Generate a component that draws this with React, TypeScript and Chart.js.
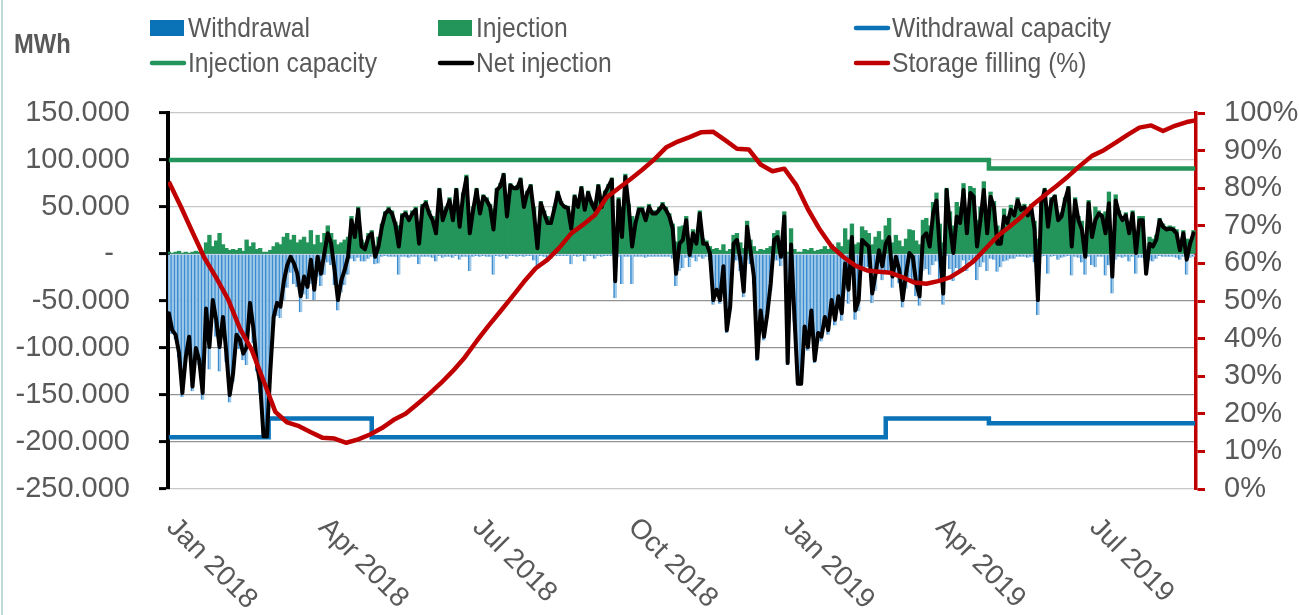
import React, { useEffect, useRef } from "react";
import { Chart, registerables } from "chart.js";

Chart.register(...registerables);

// ---------- DATA ----------
const START_DATE = "2018-01-01";
const NET_STEP_DAYS = 2; // one value every second day starting at START_DATE
const STORAGE_STEP_DAYS = 7; // weekly storage filling readings

// Net injection (thousand MWh per day)
const netInjection = [
  -63, -81, -86, -105, -148, -110, -88, -141, -100, -113,
  -148, -58, -99, -49, -70, -99, -67, -105, -150, -127,
  -86, -91, -106, -99, -52, -79, -116, -138, -194, -194,
  -125, -67, -52, -56, -29, -12, -3, -10, -21, -45,
  -24, -35, -6, -38, -3, -21, 1, 22, 11, -17,
  -49, -28, -17, -3, 36, 18, 47, 8, 5, 18,
  22, -3, 8, 29, 43, 47, 43, 31, 8, 40,
  43, 36, 43, 47, 11, 50, 54, 43, 36, 22,
  68, 36, 47, 57, 36, 68, 29, 62, 81, 22,
  47, 68, 43, 61, 57, 50, 26, 68, 72, 84,
  40, 73, 70, 70, 79, 50, 65, 72, 43, 6,
  54, 43, 33, 33, 48, 65, 54, 50, 49, 27,
  61, 50, 70, 47, 65, 54, 47, 72, 50, 65,
  72, 79, -29, 57, 18, 82, 50, 8, 33, 47,
  47, 36, 50, 43, 43, 47, 52, 47, 40, 27,
  -21, 11, 15, 36, -1, 22, 11, 43, 11, 11,
  1, -49, -38, -49, -13, -81, -56, 11, 15, -6,
  -40, 29, 4, -24, -111, -60, -88, -63, -31, 15,
  18, -3, 40, -116, 10, -67, -138, -138, -77, -99,
  -60, -113, -84, -88, -67, -81, -49, -70, -45, -63,
  -10, -38, 18, -60, -49, 15, 11, 8, -42, -21,
  4, -13, 11, 18, -24, -3, -17, -49, -21, 1,
  -3, -31, -45, 18, 22, 8, 43, 57, 4, -42,
  68, 29, 1, 40, 33, 68, 22, 65, 61, 8,
  36, 68, 22, 61, 50, 11, 11, 40, 33, 47,
  41, 57, 47, 50, 41, 50, 26, -49, 54, 68,
  29, 57, 61, 36, 40, 57, 70, 8, 57, 36,
  26, -3, 54, 18, 36, 43, 40, 22, 54, -24,
  57, 43, 36, 41, 22, 43, 1, 36, 36, -21,
  11, 8, 15, 36, 29, 26, 27, 26, 22, 4,
  22, -6, 11, 22,
];

// Injection (thousand MWh per day)
const injection = [
  2, 1, 2, 3, 1, 2, 1, 2, 3, 2,
  3, 12, 20, 8, 14, 22, 10, 6, 4, 5,
  4, 6, 3, 15, 8, 12, 5, 6, 2, 2,
  4, 8, 12, 10, 18, 22, 15, 20, 12, 15,
  18, 12, 25, 10, 20, 12, 22, 30, 22, 15,
  10, 12, 15, 18, 40, 25, 50, 15, 12, 22,
  25, 8, 18, 32, 45, 50, 46, 34, 30, 43,
  46, 40, 46, 50, 22, 53, 57, 46, 40, 30,
  70, 40, 50, 60, 40, 70, 35, 65, 84, 40,
  50, 70, 46, 63, 60, 53, 48, 70, 75, 86,
  45, 75, 72, 73, 81, 53, 67, 74, 50, 20,
  56, 46, 40, 38, 50, 67, 56, 52, 51, 38,
  63, 53, 72, 55, 67, 56, 52, 74, 53, 67,
  74, 81, 18, 60, 50, 85, 53, 40, 36, 50,
  50, 40, 53, 46, 46, 50, 55, 50, 43, 32,
  13, 29, 30, 40, 13, 26, 19, 46, 16, 14,
  8, 5, 6, 4, 10, 3, 5, 20, 22, 12,
  6, 35, 15, 8, 3, 5, 4, 6, 8, 22,
  25, 10, 45, 2, 27, 5, 2, 2, 5, 4,
  6, 3, 4, 5, 8, 5, 10, 6, 12, 8,
  27, 15, 32, 10, 12, 29, 25, 22, 10, 18,
  24, 15, 30, 38, 12, 20, 14, 8, 16, 26,
  25, 14, 10, 36, 38, 30, 55, 65, 32, 12,
  70, 45, 30, 55, 50, 75, 40, 72, 70, 36,
  50, 77, 40, 66, 56, 30, 25, 48, 40, 52,
  46, 60, 50, 53, 45, 53, 35, 16, 57, 70,
  50, 60, 63, 42, 44, 60, 72, 31, 60, 40,
  35, 19, 57, 30, 50, 46, 43, 45, 66, 18,
  63, 46, 40, 44, 30, 46, 22, 40, 40, 1,
  18, 16, 20, 38, 32, 29, 30, 29, 26, 10,
  25, 16, 15, 25,
];

// Withdrawal (thousand MWh per day)
const withdrawal = [
  -68, -85, -91, -110, -152, -115, -92, -146, -105, -118,
  -155, -74, -123, -61, -88, -125, -81, -115, -158, -136,
  -94, -101, -113, -118, -64, -95, -125, -148, -196, -196,
  -131, -77, -66, -68, -49, -36, -20, -32, -35, -62,
  -43, -48, -32, -49, -24, -34, -22, -9, -12, -33,
  -60, -41, -33, -22, -5, -8, -4, -8, -8, -5,
  -3, -11, -10, -3, -2, -3, -3, -3, -22, -3,
  -3, -4, -3, -3, -11, -3, -3, -3, -4, -8,
  -2, -4, -3, -3, -4, -2, -6, -3, -3, -18,
  -3, -2, -3, -2, -3, -3, -22, -2, -3, -2,
  -5, -2, -2, -3, -2, -3, -2, -2, -7, -14,
  -2, -3, -7, -5, -2, -2, -2, -2, -2, -11,
  -2, -3, -2, -8, -2, -2, -5, -2, -3, -2,
  -2, -2, -47, -3, -32, -3, -3, -32, -3, -3,
  -3, -4, -3, -3, -3, -3, -3, -3, -3, -5,
  -34, -18, -15, -4, -14, -4, -8, -3, -5, -3,
  -7, -54, -44, -53, -23, -84, -61, -9, -7, -18,
  -46, -6, -11, -32, -114, -65, -92, -69, -39, -7,
  -7, -13, -5, -118, -17, -72, -140, -140, -82, -103,
  -66, -116, -88, -93, -75, -86, -59, -76, -57, -71,
  -37, -53, -14, -70, -61, -14, -14, -14, -52, -39,
  -20, -28, -19, -20, -36, -23, -31, -57, -37, -25,
  -28, -45, -55, -18, -16, -22, -12, -8, -28, -54,
  -2, -16, -29, -15, -17, -7, -18, -7, -9, -28,
  -14, -9, -18, -5, -6, -19, -14, -8, -7, -5,
  -5, -3, -3, -3, -4, -3, -9, -65, -3, -2,
  -21, -3, -2, -6, -4, -3, -2, -23, -3, -4,
  -9, -22, -3, -12, -14, -3, -3, -23, -12, -42,
  -6, -3, -4, -3, -8, -3, -21, -4, -4, -22,
  -7, -8, -5, -2, -3, -3, -3, -3, -4, -6,
  -3, -22, -4, -3,
];

// Storage filling (%), weekly
const storageFilling = [
  81.7, 75.2, 68.3, 61.5, 56.2, 50.5, 42.7, 37.0, 28.8, 20.5,
  17.7, 16.7, 15.1, 13.6, 13.4, 12.3, 13.2, 14.5, 16.2, 18.4,
  20.0, 22.6, 25.3, 28.2, 31.4, 35.0, 39.3, 43.4, 47.2, 51.1,
  55.1, 58.7, 61.0, 64.2, 68.0, 70.3, 72.9, 77.6, 80.0, 82.4,
  84.9, 87.6, 90.8, 92.4, 93.6, 94.9, 95.0, 92.8, 90.5, 90.3,
  86.3, 84.5, 85.2, 80.9, 74.4, 69.0, 64.5, 61.7, 59.4, 58.1,
  57.8, 57.5, 56.3, 54.9, 54.6, 55.3, 56.3, 58.2, 60.6, 63.9,
  67.2, 69.7, 72.3, 75.6, 78.1, 80.6, 83.2, 86.0, 88.6, 90.1,
  92.1, 94.2, 96.1, 96.7, 95.2, 96.6, 97.6, 98.2,
];

// Capacities (thousand MWh per day), valid from the given date
const withdrawalCapDates = ["2018-01-01", "2018-03-01", "2018-05-01", "2019-03-01", "2019-05-01", "2019-08-31"];
const withdrawalCapValues = [-195, -175, -195, -175, -180, -180];
const injectionCapDates = ["2018-01-01", "2019-05-01", "2019-08-31"];
const injectionCapValues = [100, 91, 91];

// Axis ticks
const xTickDates = ["2018-01-01", "2018-04-01", "2018-07-01", "2018-10-01", "2019-01-01", "2019-04-01", "2019-07-01"];
const xTickLabels = ["Jan 2018", "Apr 2018", "Jul 2018", "Oct 2018", "Jan 2019", "Apr 2019", "Jul 2019"];
const xRangeDates = ["2018-01-01", "2019-08-31"];
const yUnitLabel = "MWh";

// ---------- STYLE ----------
const FONT = '"Liberation Sans", Arial, Helvetica, sans-serif';
const TEXT = "#595959";
const C_WITHDRAWAL = "#0a72b6";
const C_INJECTION = "#23955a";
const C_NET = "#000000";
const C_STORAGE = "#c00000";

const DAY_MS = 86400000;
const t0 = Date.parse(START_DATE);
const dayOf = (d: string) => (Date.parse(d) - t0) / DAY_MS;

const netPts = netInjection.map((v, i) => ({ x: i * NET_STEP_DAYS, y: v }));
const injPts = injection.map((v, i) => ({ x: i * NET_STEP_DAYS, y: v }));
const wdPts = withdrawal.map((v, i) => ({ x: i * NET_STEP_DAYS, y: v }));
const storagePts = storageFilling.map((v, i) => ({ x: i * STORAGE_STEP_DAYS, y: v }));
const wCapPts = withdrawalCapDates.map((d, i) => ({ x: dayOf(d), y: withdrawalCapValues[i] }));
const iCapPts = injectionCapDates.map((d, i) => ({ x: dayOf(d), y: injectionCapValues[i] }));

const legendLayout = [
  { label: "Withdrawal", kind: "box", color: C_WITHDRAWAL, col: 0, row: 0 },
  { label: "Injection", kind: "box", color: C_INJECTION, col: 1, row: 0 },
  { label: "Withdrawal capacity", kind: "line", color: C_WITHDRAWAL, col: 2, row: 0 },
  { label: "Injection capacity", kind: "line", color: C_INJECTION, col: 0, row: 1 },
  { label: "Net injection", kind: "line", color: C_NET, col: 1, row: 1 },
  { label: "Storage filling (%)", kind: "line", color: C_STORAGE, col: 2, row: 1 },
];
const legendColX = [150, 438, 854];
const legendRowY = [28, 63];

const overlayPlugin = {
  id: "overlay",
  afterDraw(chart: any) {
    const ctx = chart.ctx as CanvasRenderingContext2D;
    const xs = chart.scales.x;
    const area = chart.chartArea;
    ctx.save();
    // thin frame line on the left edge
    ctx.fillStyle = "#bcdad6";
    ctx.fillRect(1, 0, 2, chart.height);

    // rotated x labels
    ctx.font = `28px ${FONT}`;
    ctx.fillStyle = TEXT;
    ctx.textAlign = "left";
    ctx.textBaseline = "middle";
    xTickDates.forEach((d, i) => {
      const px = xs.getPixelForValue(dayOf(d));
      ctx.save();
      ctx.translate(px + 2, area.bottom + 34);
      ctx.rotate(Math.PI / 4);
      ctx.fillText(xTickLabels[i], 0, 0);
      ctx.restore();
    });

    // unit label
    ctx.textBaseline = "alphabetic";
    ctx.font = `bold 27px ${FONT}`;
    ctx.save();
    ctx.translate(14, 53);
    ctx.scale(0.88, 1);
    ctx.fillText(yUnitLabel, 0, 0);
    ctx.restore();

    // legend
    legendLayout.forEach((it) => {
      const x = legendColX[it.col];
      const y = legendRowY[it.row];
      if (it.kind === "box") {
        ctx.fillStyle = it.color;
        ctx.fillRect(x, y - 8, 34, 16);
      } else {
        ctx.strokeStyle = it.color;
        ctx.lineWidth = 4.5;
        ctx.lineCap = "round";
        ctx.beginPath();
        ctx.moveTo(x + 2, y);
        ctx.lineTo(x + 34, y);
        ctx.stroke();
      }
      ctx.fillStyle = TEXT;
      ctx.font = `28px ${FONT}`;
      ctx.save();
      ctx.translate(x + 38, y + 9);
      ctx.scale(0.88, 1);
      ctx.fillText(it.label, 0, 0);
      ctx.restore();
    });
    ctx.restore();
  },
};

export default function App() {
  const ref = useRef<HTMLCanvasElement>(null);
  useEffect(() => {
    if (!ref.current) return;
    const chart = new Chart(ref.current, {
      type: "line",
      data: {
        datasets: [
          {
            type: "line",
            label: "Storage filling (%)",
            data: storagePts,
            yAxisID: "y2",
            borderColor: C_STORAGE,
            borderWidth: 4.5,
            pointRadius: 0,
            borderJoinStyle: "round",
            order: 1,
          },
          {
            type: "line",
            label: "Net injection",
            data: netPts,
            yAxisID: "y",
            borderColor: C_NET,
            borderWidth: 4,
            pointRadius: 0,
            borderJoinStyle: "round",
            borderCapStyle: "round",
            order: 2,
          },
          {
            type: "line",
            label: "Withdrawal capacity",
            data: wCapPts,
            yAxisID: "y",
            stepped: "before",
            borderColor: C_WITHDRAWAL,
            borderWidth: 4.5,
            pointRadius: 0,
            order: 3,
          },
          {
            type: "line",
            label: "Injection capacity",
            data: iCapPts,
            yAxisID: "y",
            stepped: "before",
            borderColor: C_INJECTION,
            borderWidth: 4.5,
            pointRadius: 0,
            order: 3,
          },
          {
            type: "bar",
            label: "Injection",
            data: injPts,
            yAxisID: "y",
            backgroundColor: C_INJECTION,
            barThickness: 3.7,
            grouped: false,
            order: 5,
          },
          {
            type: "bar",
            label: "Withdrawal",
            data: wdPts,
            yAxisID: "y",
            backgroundColor: "#9fc9e8",
            borderColor: "#3a8bcf",
            borderWidth: { left: 1.5, right: 0, top: 0, bottom: 0 },
            borderSkipped: false,
            barThickness: 3.4,
            grouped: false,
            order: 5,
          },
        ] as any,
      },
      options: {
        responsive: false,
        animation: false,
        events: [],
        layout: { padding: { top: 113, left: 0, right: 0, bottom: 0 } },
        plugins: { legend: { display: false }, tooltip: { enabled: false } },
        scales: {
          x: {
            type: "linear",
            min: dayOf(xRangeDates[0]) - 0.5,
            max: dayOf(xRangeDates[1]) + 0.5,
            offset: false,
            grid: { display: false },
            border: { display: false },
            ticks: { display: false },
            afterFit: (s: any) => {
              s.height = 126;
            },
          },
          y: {
            position: "left",
            min: -250,
            max: 150,
            border: { display: true, color: "#000000", width: 4 },
            grid: {
              color: (c: any) => {
                const v = c.tick ? c.tick.value : 0;
                return v <= 0 && v > -250 ? "#939393" : "#c8c8c8";
              },
              lineWidth: 1.2,
              tickColor: "#000000",
              tickWidth: 3,
              tickLength: 9,
            },
            ticks: {
              stepSize: 50,
              autoSkip: false,
              padding: 29,
              color: TEXT,
              font: { family: FONT, size: 29 },
              callback: (v: any) => (Number(v) === 0 ? "-  " : `${v}.000`),
            },
            afterFit: (s: any) => {
              s.width = 168;
            },
          },
          y2: {
            position: "right",
            min: 0,
            max: 100,
            border: { display: true, color: C_STORAGE, width: 3.5 },
            grid: {
              drawOnChartArea: false,
              tickColor: C_STORAGE,
              tickWidth: 3,
              tickLength: 9,
            },
            ticks: {
              stepSize: 10,
              autoSkip: false,
              padding: 19,
              color: TEXT,
              font: { family: FONT, size: 29 },
              callback: (v: any) => `${Math.round(Number(v))}%`,
            },
            afterFit: (s: any) => {
              s.width = 103;
            },
          },
        },
      } as any,
      plugins: [overlayPlugin],
    });
    return () => chart.destroy();
  }, []);

  return (
    <div style={{ position: "fixed", left: 0, top: 0, width: 1299, height: 615, background: "#ffffff" }}>
      <canvas ref={ref} width={1299} height={615} style={{ display: "block" }} />
    </div>
  );
}
